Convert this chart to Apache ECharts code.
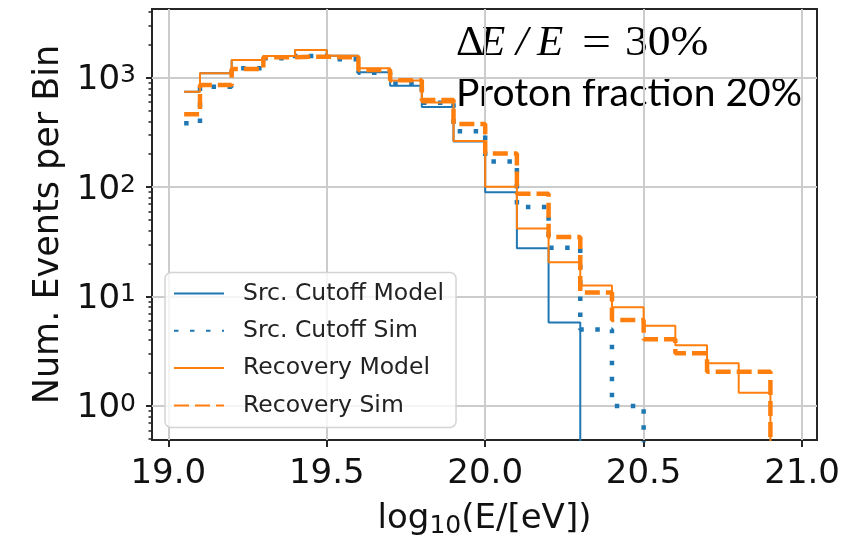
<!DOCTYPE html>
<html>
<head>
<meta charset="utf-8">
<script src="https://cdn.jsdelivr.net/npm/echarts@6/dist/echarts.min.js"></script>
<style>
  html, body { margin: 0; padding: 0; background: #fff; }
  #chart { width: 862px; height: 537px; }
</style>
</head>
<body>
<div id="chart"></div>
<script>
// bin centres in log10(E/eV); steps are drawn "mid" like plt.step(where='mid')
const binCenters = [19.05, 19.15, 19.25, 19.35, 19.45, 19.55, 19.65, 19.75, 19.85, 19.95,
                    20.05, 20.15, 20.25, 20.35, 20.45, 20.55, 20.65, 20.75, 20.85, 20.95]
const srcCutoffModel = [746, 1099, 1455, 1582, 1795, 1592, 1122, 845, 541, 262,
                        90, 27.6, 5.8, 0, 0, 0, 0, 0, 0, 0]
const srcCutoffSim = [384, 829, 1222, 1507, 1582, 1476, 1110, 885, 590, 325,
                      172, 66, 28, 5.0, 1.0, 0, 0, 0, 0, 0]
const recoveryModel = [746, 1099, 1455, 1582, 1795, 1592, 1222, 945, 595, 264,
                       101, 42, 20.6, 12.6, 8.0, 5.4, 3.6, 2.46, 1.32, 0]
const recoverySim = [464, 860, 1203, 1540, 1560, 1540, 1178, 950, 627, 378,
                     203, 87, 35, 10.9, 6.1, 4.07, 3.03, 2.06, 2.06, 0]

const xTicks = [19.0, 19.5, 20.0, 20.5, 21.0]
const yTicks = [1, 10, 100, 1000]
const yMinorTicks = [0.5, 0.6, 0.7, 0.8, 0.9, 2, 3, 4, 5, 6, 7, 8, 9,
                     20, 30, 40, 50, 60, 70, 80, 90, 200, 300, 400, 500, 600, 700, 800, 900,
                     2000, 3000, 4000]

// empty bins fall off the bottom of the log axis
const EMPTY = 1e-3
const toSteps = vals => binCenters.map((x, i) => [x, vals[i] > 0 ? vals[i] : EMPTY])

const BLUE = '#1f77b4'
const ORANGE = '#ff7f0e'
const FONT = 'DejaVu Sans'
const SERIF = '"Liberation Serif"'

const chart = echarts.init(document.getElementById('chart'))

const option = {
  animation: false,
  grid: {
    left: 152, top: 9, right: 45, bottom: 97,
    show: true, borderColor: '#262626', borderWidth: 2,
    outerBoundsMode: 'none'
  },
  xAxis: {
    type: 'value',
    min: 18.9486,
    max: 21.047,
    name: '{t|log}{s|10}{t|(E/[eV])}',
    nameLocation: 'middle',
    nameGap: 59,
    nameTextStyle: {
      rich: {
        t: { fontFamily: FONT, fontSize: 34, color: '#111', lineHeight: 40 },
        s: { fontFamily: FONT, fontSize: 25, color: '#111', lineHeight: 17, verticalAlign: 'bottom' }
      }
    },
    axisLine: { show: false },
    axisTick: { customValues: xTicks, length: 7, lineStyle: { color: '#262626', width: 2 } },
    axisLabel: {
      customValues: xTicks,
      margin: 17,
      fontFamily: FONT, fontSize: 34, color: '#111',
      formatter: v => v.toFixed(1)
    },
    splitLine: { show: true, lineStyle: { color: '#cccccc', width: 2 } }
  },
  yAxis: [{
    type: 'log',
    logBase: 10,
    min: 0.489,
    max: 4250,
    name: 'Num. Events per Bin',
    nameLocation: 'middle',
    nameGap: 80,
    nameTextStyle: { fontFamily: FONT, fontSize: 35, color: '#111' },
    axisLine: { show: false },
    axisTick: { customValues: yTicks, length: 6, lineStyle: { color: '#262626', width: 2 } },
    axisLabel: {
      customValues: yTicks,
      margin: 16,
      padding: [5, 0, 0, 0],
      formatter: v => '{b|10}{e|' + Math.round(Math.log10(v)) + '}',
      rich: {
        b: { fontFamily: FONT, fontSize: 34, color: '#111', lineHeight: 34 },
        e: { fontFamily: FONT, fontSize: 25, color: '#111', lineHeight: 20, verticalAlign: 'top' }
      }
    },
    splitLine: { show: true, lineStyle: { color: '#cccccc', width: 2 } }
  }, {
    // minor ticks only
    type: 'log',
    logBase: 10,
    min: 0.489,
    max: 4250,
    position: 'left',
    axisLine: { show: false },
    axisLabel: { show: false },
    splitLine: { show: false },
    axisTick: { customValues: yMinorTicks, length: 3.5, lineStyle: { color: '#262626', width: 1.5 } }
  }],
  legend: {
    orient: 'vertical',
    left: 165,
    top: 272.5,
    padding: [7, 12, 8, 8],
    itemWidth: 50,
    itemHeight: 28,
    itemGap: 9.3,
    itemStyle: { opacity: 0 },
    backgroundColor: 'rgba(255,255,255,0.8)',
    borderColor: '#d4d4d4',
    borderWidth: 1.5,
    borderRadius: 6,
    textStyle: { fontFamily: FONT, fontSize: 23.5, color: '#222', lineHeight: 28, padding: [0, 0, 0, 14] },
    data: ['Src. Cutoff Model', 'Src. Cutoff Sim', 'Recovery Model', 'Recovery Sim']
  },
  series: [{
    name: 'Src. Cutoff Model',
    type: 'line', step: 'middle', symbol: 'none',
    data: toSteps(srcCutoffModel),
    itemStyle: { color: BLUE },
    lineStyle: { color: BLUE, width: 2 }
  }, {
    name: 'Src. Cutoff Sim',
    type: 'line', step: 'middle', symbol: 'none',
    data: toSteps(srcCutoffSim),
    itemStyle: { color: BLUE },
    lineStyle: { color: BLUE, width: 4.5, type: [4.5, 11.5], cap: 'butt' }
  }, {
    name: 'Recovery Model',
    type: 'line', step: 'middle', symbol: 'none',
    data: toSteps(recoveryModel),
    itemStyle: { color: ORANGE },
    lineStyle: { color: ORANGE, width: 2 }
  }, {
    name: 'Recovery Sim',
    type: 'line', step: 'middle', symbol: 'none',
    data: toSteps(recoverySim),
    itemStyle: { color: ORANGE },
    lineStyle: { color: ORANGE, width: 4.5, type: [15, 6], cap: 'butt' }
  }],
  graphic: [
    { type: 'text', x: 456, y: 44, style: { text: 'Δ', font: '43px ' + SERIF, fill: '#000', verticalAlign: 'middle' } },
    { type: 'text', x: 479, y: 44, style: { text: 'E', font: 'italic 43px ' + SERIF, fill: '#000', verticalAlign: 'middle' } },
    { type: 'text', x: 516, y: 44, style: { text: '/', font: 'italic 43px ' + SERIF, fill: '#000', verticalAlign: 'middle' } },
    { type: 'text', x: 537, y: 44, style: { text: 'E', font: 'italic 43px ' + SERIF, fill: '#000', verticalAlign: 'middle' } },
    { type: 'text', x: 582, y: 44, scaleX: 1.2, style: { text: '=', font: '43px ' + SERIF, fill: '#000', verticalAlign: 'middle' } },
    { type: 'text', x: 625, y: 44, scaleX: 1.06, style: { text: '30%', font: '43px ' + SERIF, fill: '#000', verticalAlign: 'middle' } },
    { type: 'text', x: 456, y: 93, style: { text: 'Proton fraction 20%', font: '39px Lato', fill: '#000', verticalAlign: 'middle' } }
  ]
}

chart.setOption(option)
</script>
</body>
</html>
